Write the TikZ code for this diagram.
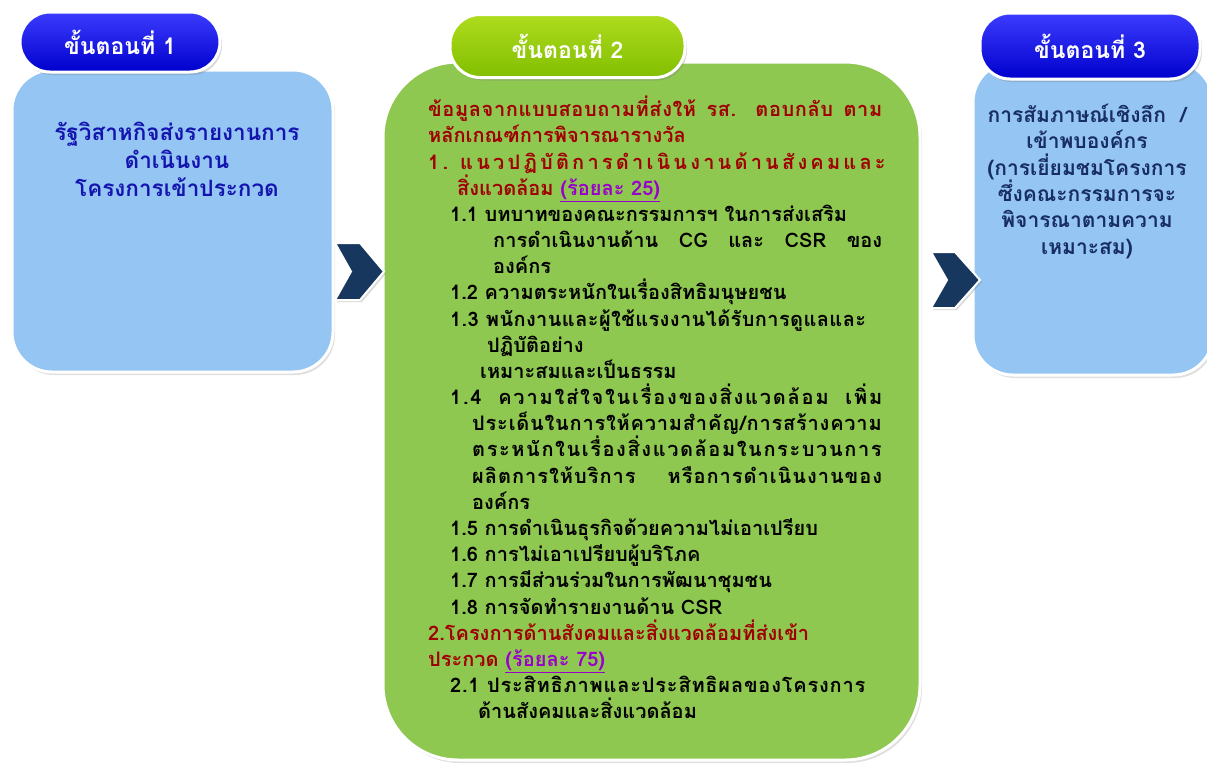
\documentclass[tikz,border=0pt]{standalone}
\usepackage{fontspec}
\newfontfamily\thaifont[Script=Thai]{Loma}
\usetikzlibrary{shadows}
\usetikzlibrary{positioning}
\definecolor{boxblue}{RGB}{148,197,243}
\definecolor{boxgreen}{RGB}{143,200,80}
\definecolor{pillblue}{RGB}{0,0,205}
\definecolor{pilltop}{RGB}{60,60,255}
\definecolor{pillgreen}{RGB}{130,190,0}
\definecolor{pillgreentop}{RGB}{175,220,30}
\definecolor{chevnavy}{RGB}{23,55,94}
\definecolor{txtblue}{RGB}{20,20,175}
\definecolor{txtnavy}{RGB}{23,45,100}
\definecolor{critred}{RGB}{160,0,0}
\definecolor{critpurple}{RGB}{153,0,204}
\newcommand\fillto[2]{\makebox[#1][s]{#2}}
\newcommand\spaced[2]{{\addfontfeature{LetterSpace=#1}#2}}
\newcommand\pct[1]{\textcolor{critpurple}{\underline{#1}}}
\tikzset{
    stagebox/.style={draw=white, line width=3pt, inner sep=0pt,
        drop shadow={opacity=0.25, shadow xshift=2pt, shadow yshift=-3pt}},
    stagepill/.style={draw=white, line width=3pt, inner sep=0pt, rounded corners=30pt,
        text=white, font=\thaifont\bfseries\fontsize{23}{26}\selectfont,
        drop shadow={opacity=0.3, shadow xshift=2pt, shadow yshift=-3pt}},
    chevron/.style={draw=white, line width=2pt, fill=chevnavy,
        drop shadow={opacity=0.3, shadow xshift=2pt, shadow yshift=-2pt}},
    boxtext/.style={align=center, inner sep=0pt}
}
\begin{document}
\begin{tikzpicture}[x=1pt,y=-1pt]
    \useasboundingbox (0,0) rectangle (1207,764);
    % the three stage boxes
    \node[stagebox, fill=boxblue, rounded corners=40pt, minimum width=321pt, minimum height=302pt] (s1) at (172.5,221) {};
    \node[stagebox, fill=boxgreen, rounded corners=75pt, minimum width=537pt, minimum height=698pt] (s2) at (651.5,411) {};
    \node[stagebox, fill=boxblue, rounded corners=40pt, minimum width=240pt, minimum height=313pt] (s3) at (1093,218.5) {};
    % headers
    \node[stagepill, top color=pilltop, bottom color=pillblue, minimum width=200pt, minimum height=60pt] (h1) at (120,42) {ขั้นตอนที่ 1};
    \node[stagepill, top color=pillgreentop, bottom color=pillgreen, minimum width=235pt, minimum height=63pt] (h2) at (567.5,46) {ขั้นตอนที่ 2};
    \node[stagepill, top color=pilltop, bottom color=pillblue, minimum width=220pt, minimum height=66pt] (h3) at (1090,46) {ขั้นตอนที่ 3};
    % chevrons between the stages
    \draw[chevron] (335,243) -- (360,243) -- (384,271.5) -- (360,300) -- (335,300) -- (351,271.5) -- cycle;
    \draw[chevron] (931,252) -- (955,252) -- (980,280) -- (955,308) -- (931,308) -- (947,280) -- cycle;
    % texts
    \node[boxtext, text=txtblue, anchor=north, font=\thaifont\bfseries\fontsize{22.5}{28}\selectfont] (t1) at (177,122) {รัฐวิสาหกิจส่งรายงานการ\\ดำเนินงาน\\โครงการเข้าประกวด};
    \node[boxtext, text=txtnavy, anchor=north, font=\thaifont\bfseries\fontsize{21}{26.3}\selectfont] (t3) at (1087,104) {การสัมภาษณ์เชิงลึก~~/\\เข้าพบองค์กร\\(การเยี่ยมชมโครงการ\\ซึ่งคณะกรรมการจะ\\พิจารณาตามความ\\เหมาะสม)};
    \node[anchor=north west, align=left, inner sep=0pt, font=\thaifont\bfseries\fontsize{20}{26.17}\selectfont] (crit) at (428,96) {%
        \textcolor{critred}{\fillto{454pt}{\spaced{3}{ข้อมูลจากแบบสอบถามที่ส่งให้ รส. ตอบกลับ ตาม}}}\\
        \textcolor{critred}{หลักเกณฑ์การพิจารณารางวัล}\\
        \textcolor{critred}{\fillto{454pt}{\spaced{16}{1. แนวปฏิบัติการดำเนินงานด้านสังคมและ}}}\\
        \hspace*{29pt}\textcolor{critred}{สิ่งแวดล้อม} \pct{(ร้อยละ 25)}\\
        \hspace*{22pt}1.1 บทบาทของคณะกรรมการฯ ในการส่งเสริม\\
        \hspace*{65pt}\fillto{389pt}{การดำเนินงานด้าน CG และ CSR ของ}\\
        \hspace*{65pt}องค์กร\\
        \hspace*{22pt}1.2 ความตระหนักในเรื่องสิทธิมนุษยชน\\
        \hspace*{22pt}\spaced{2}{1.3 พนักงานและผู้ใช้แรงงานได้รับการดูแลและ}\\
        \hspace*{59pt}ปฏิบัติอย่าง\\
        \hspace*{52pt}เหมาะสมและเป็นธรรม\\
        \hspace*{22pt}\fillto{432pt}{\spaced{9}{1.4 ความใส่ใจในเรื่องของสิ่งแวดล้อม เพิ่ม}}\\
        \hspace*{44pt}\spaced{4}{ประเด็นในการให้ความสำคัญ/การสร้างความ}\\
        \hspace*{44pt}\spaced{8}{ตระหนักในเรื่องสิ่งแวดล้อมในกระบวนการ}\\
        \hspace*{44pt}\fillto{410pt}{\spaced{5}{ผลิตการให้บริการ หรือการดำเนินงานของ}}\\
        \hspace*{44pt}องค์กร\\
        \hspace*{22pt}1.5 การดำเนินธุรกิจด้วยความไม่เอาเปรียบ\\
        \hspace*{22pt}1.6 การไม่เอาเปรียบผู้บริโภค\\
        \hspace*{22pt}1.7 การมีส่วนร่วมในการพัฒนาชุมชน\\
        \hspace*{22pt}1.8 การจัดทำรายงานด้าน CSR\\
        \textcolor{critred}{2.โครงการด้านสังคมและสิ่งแวดล้อมที่ส่งเข้า}\\
        \textcolor{critred}{ประกวด} \pct{(ร้อยละ 75)}\\
        \hspace*{22pt}\spaced{4}{2.1 ประสิทธิภาพและประสิทธิผลของโครงการ}\\
        \hspace*{50pt}ด้านสังคมและสิ่งแวดล้อม};
\end{tikzpicture}
\end{document}
